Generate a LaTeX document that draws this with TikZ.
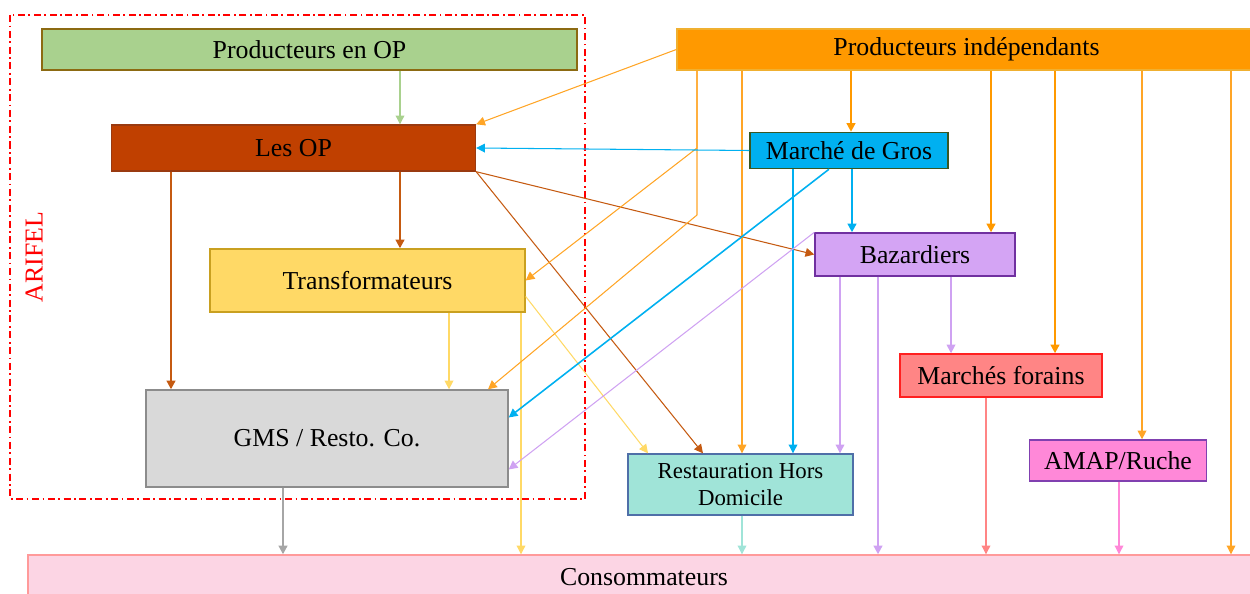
\documentclass[tikz,border=0pt]{standalone}
\usepackage{fontspec}
\setmainfont{Liberation Serif}
\usetikzlibrary{arrows.meta,calc}

% Box fills and borders.
\definecolor{opfill}{HTML}{A9D18E}
\definecolor{opline}{HTML}{8C6A12}
\definecolor{indfill}{HTML}{FF9900}
\definecolor{indline}{HTML}{F0B030}
\definecolor{lesopfill}{HTML}{C04000}
\definecolor{lesopline}{HTML}{9A3A10}
\definecolor{grosfill}{HTML}{00B0F0}
\definecolor{grosline}{HTML}{385723}
\definecolor{bazfill}{HTML}{D4A4F4}
\definecolor{bazline}{HTML}{7030A0}
\definecolor{transfill}{HTML}{FFD966}
\definecolor{transline}{HTML}{C9A020}
\definecolor{forfill}{HTML}{FF8585}
\definecolor{forline}{HTML}{FF2020}
\definecolor{gmsfill}{HTML}{D9D9D9}
\definecolor{gmsline}{HTML}{8C8C8C}
\definecolor{rhdfill}{HTML}{A0E4D8}
\definecolor{rhdline}{HTML}{4F6FA8}
\definecolor{amapfill}{HTML}{FF88D8}
\definecolor{amapline}{HTML}{8040B0}
\definecolor{consfill}{HTML}{FCD5E4}
\definecolor{consline}{HTML}{FF9A9A}
% Arrow colours.
\definecolor{aorange}{HTML}{FFA526}
\definecolor{abrown}{HTML}{C55A11}
\definecolor{alav}{HTML}{CFA2F2}
\definecolor{agray}{HTML}{A6A6A6}

\begin{document}
\begin{tikzpicture}[x=0.02cm,y=-0.02cm,
  box/.style={draw,line width=0.8pt,inner sep=2pt,align=center,
    font=\fontsize{14.7}{17}\selectfont},
  flow/.style={-{Triangle[width=5pt,length=5pt]},line width=0.6pt},
  bigflow/.style={flow,line width=1.2pt}]
  % Display coordinates: one unit = one pixel, y pointing down.
  \useasboundingbox (0,0) rectangle (1250,594);

  % ARIFEL frame.
  \draw[red,line width=0.7pt,dash pattern=on 4pt off 2pt on 1pt off 2pt]
    (10,15) rectangle (585,499);
  \node[red,rotate=90,font=\fontsize{14.7}{17}\selectfont] (arifel) at (34,257) {ARIFEL};

  % Actors.
  \node[box,fill=opfill,draw=opline,minimum width=10.7cm,minimum height=0.82cm]
    (prodop) at (309.5,49.5) {Producteurs en OP};
  \node[box,fill=indfill,draw=indline,minimum width=11.58cm,minimum height=0.82cm]
    (prodind) at (966.5,49.5) {Producteurs indépendants};
  \node[box,fill=lesopfill,draw=lesopline,minimum width=7.28cm,minimum height=0.92cm]
    (lesop) at (293.5,148) {Les OP};
  \node[box,fill=grosfill,draw=grosline,minimum width=3.96cm,minimum height=0.72cm]
    (gros) at (849,150.5) {Marché de Gros};
  \node[box,fill=bazfill,draw=bazline,minimum width=4cm,minimum height=0.86cm]
    (baz) at (915,254.5) {Bazardiers};
  \node[box,fill=transfill,draw=transline,minimum width=6.3cm,minimum height=1.26cm]
    (transf) at (367.5,280.5) {Transformateurs};
  \node[box,fill=forfill,draw=forline,minimum width=4.04cm,minimum height=0.86cm]
    (forains) at (1001,375.5) {Marchés forains};
  \node[box,fill=gmsfill,draw=gmsline,minimum width=7.24cm,minimum height=1.94cm]
    (gms) at (327,438.5) {GMS / Resto. Co.};
  \node[box,fill=rhdfill,draw=rhdline,minimum width=4.5cm,minimum height=1.22cm,
    font=\fontsize{13}{15.5}\selectfont]
    (rhd) at (740.5,484.5) {Restauration Hors\\Domicile};
  \node[box,fill=amapfill,draw=amapline,minimum width=3.54cm,minimum height=0.82cm]
    (amap) at (1118,460.5) {AMAP/Ruche};
  \node[box,fill=consfill,draw=consline,minimum width=24.64cm,minimum height=0.88cm]
    (conso) at (644,577) {Consommateurs};

  % From the producers in OP and the OP.
  \draw[flow,opfill] (400,0 |- prodop.south) -- (400,0 |- lesop.north);
  \draw[bigflow,abrown] (400,0 |- lesop.south) -- (400,0 |- transf.north);
  \draw[bigflow,abrown] (171,0 |- lesop.south) -- (171,0 |- gms.north);
  \draw[flow,abrown] (lesop.south east) -- (baz.west);
  \draw[flow,abrown] (lesop.south east) -- (703,0 |- rhd.north);

  % From the processors.
  \draw[flow,transfill,line width=0.9pt] (449,0 |- transf.south) -- (449,0 |- gms.north);
  \draw[flow,transfill] (521,0 |- transf.south) -- (521,0 |- conso.north);
  \draw[flow,transfill] ($(transf.east)+(0,16)$) -- (648,0 |- rhd.north);

  % From the independent producers.
  \draw[flow,aorange] (prodind.west) -- (lesop.north east);
  \draw[flow,aorange] (697,0 |- prodind.south) -- (697,148) -- (transf.east);
  \draw[flow,aorange] (697,0 |- prodind.south) -- (697,215) -- (488,0 |- gms.north);
  \draw[flow,aorange] (742,0 |- prodind.south) -- (742,0 |- rhd.north);
  \draw[bigflow,indfill] (851,0 |- prodind.south) -- (851,0 |- gros.north);
  \draw[bigflow,indfill] (991,0 |- prodind.south) -- (991,0 |- baz.north);
  \draw[bigflow,indfill] (1055,0 |- prodind.south) -- (1055,0 |- forains.north);
  \draw[flow,aorange,line width=0.9pt] (1142,0 |- prodind.south) -- (1142,0 |- amap.north);
  \draw[flow,aorange] (1231,0 |- prodind.south) -- (1231,0 |- conso.north);

  % From the wholesale market.
  \draw[flow,grosfill] (gros.west) -- (lesop.east);
  \draw[bigflow,grosfill] (852,0 |- gros.south) -- (852,0 |- baz.north);
  \draw[flow,grosfill] (793,0 |- gros.south) -- (793,0 |- rhd.north);
  \draw[flow,grosfill,line width=0.9pt] (829,0 |- gros.south) -- ($(gms.east)+(0,-21)$);

  % From the bazardiers.
  \draw[flow,alav] (baz.north west) -- ($(gms.east)+(0,31)$);
  \draw[flow,alav] (840,0 |- baz.south) -- (840,0 |- rhd.north);
  \draw[bigflow,alav] (878,0 |- baz.south) -- (878,0 |- conso.north);
  \draw[flow,alav,line width=0.9pt] (951,0 |- baz.south) -- (951,0 |- forains.north);

  % To the consumers.
  \draw[flow,forfill] (986,0 |- forains.south) -- (986,0 |- conso.north);
  \draw[flow,amapfill] (1119,0 |- amap.south) -- (1119,0 |- conso.north);
  \draw[flow,rhdfill] (742,0 |- rhd.south) -- (742,0 |- conso.north);
  \draw[bigflow,agray] (283,0 |- gms.south) -- (283,0 |- conso.north);
\end{tikzpicture}
\end{document}
